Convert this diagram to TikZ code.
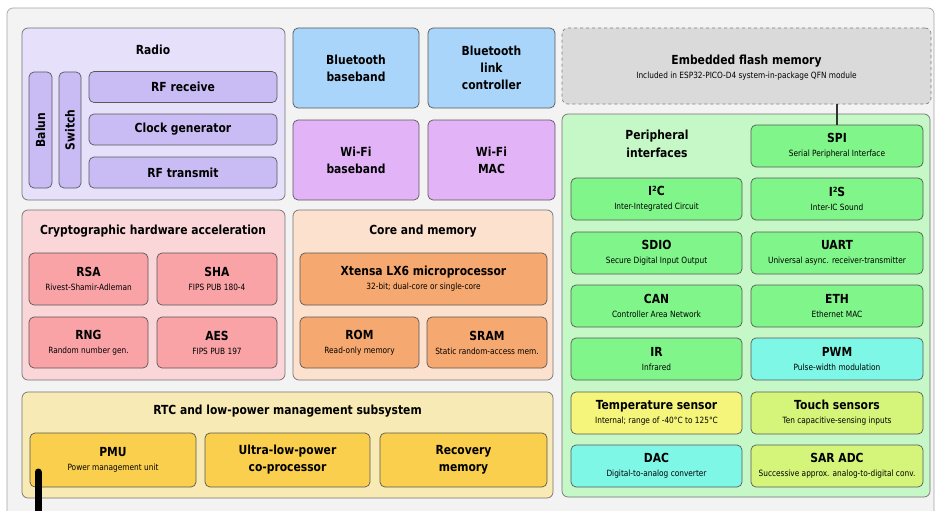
\documentclass[tikz,border=0pt]{standalone}
\usepackage{fontspec}
\setmainfont{DejaVu Sans}[FakeStretch=0.86]
\usepackage{tikz}

\definecolor{frameBg}{HTML}{F3F3F3}
\definecolor{radioBg}{HTML}{E6E0FB}
\definecolor{radioIn}{HTML}{C9BCF5}
\definecolor{btBlue}{HTML}{A9D5FA}
\definecolor{wifiPink}{HTML}{E3B3F7}
\definecolor{cryptoBg}{HTML}{FAD6D8}
\definecolor{cryptoIn}{HTML}{F9A3A6}
\definecolor{coreBg}{HTML}{FDE1CF}
\definecolor{coreIn}{HTML}{F5A870}
\definecolor{rtcBg}{HTML}{F8EAB5}
\definecolor{rtcIn}{HTML}{F9CF4D}
\definecolor{flashBg}{HTML}{DADADA}
\definecolor{periBg}{HTML}{C6F7C6}
\definecolor{periGreen}{HTML}{80F58A}
\definecolor{periCyan}{HTML}{7FF7E6}
\definecolor{periYellow}{HTML}{F4F57A}
\definecolor{periLime}{HTML}{D5F57A}

\tikzset{
  grp/.style={draw=black!55,line width=0.7pt,rounded corners=6pt,inner sep=0pt},
  blk/.style={draw=black!65,line width=0.7pt,rounded corners=5pt,inner sep=0pt,align=center,
    font=\fontsize{12.5}{17}\selectfont\bfseries},
  ttl/.style={align=center,inner sep=0pt,font=\fontsize{12.5}{18}\selectfont\bfseries},
  periph/.style={blk,minimum width=171pt,minimum height=42pt},
}
\newcommand{\subtxt}[1]{\\[-3pt]{\fontsize{8.6}{10}\selectfont\mdseries #1}}

\begin{document}
\begin{tikzpicture}[x=1pt,y=-1pt]
\clip (0,0) rectangle (937,511);

\node[grp,draw=black!35,fill=frameBg,minimum width=927pt,minimum height=530pt] (frame) at (470.5,273) {};

\node[grp,fill=radioBg,minimum width=263pt,minimum height=172pt] (radio) at (153.5,114) {};
\node[ttl] (radioT) at (153,50) {Radio};
\node[blk,fill=radioIn,minimum width=23pt,minimum height=116pt] (balun) at (40.5,130) {};
\node[ttl,rotate=90] at (balun) {Balun};
\node[blk,fill=radioIn,minimum width=22pt,minimum height=116pt] (switch) at (70,130) {};
\node[ttl,rotate=90] at (switch) {Switch};
\node[blk,fill=radioIn,minimum width=188pt,minimum height=31pt] (rfrx) at (183,87) {RF receive};
\node[blk,fill=radioIn,minimum width=188pt,minimum height=31pt] (clkgen) at (183,129.5) {Clock generator};
\node[blk,fill=radioIn,minimum width=188pt,minimum height=31pt] (rftx) at (183,172.5) {RF transmit};

\node[blk,fill=btBlue,minimum width=126pt,minimum height=80pt] (btbb) at (356,68) {Bluetooth\\baseband};
\node[blk,fill=btBlue,minimum width=127pt,minimum height=80pt] (btlc) at (491.5,68) {Bluetooth\\link\\controller};
\node[blk,fill=wifiPink,minimum width=126pt,minimum height=80pt] (wifibb) at (356,160) {Wi-Fi\\baseband};
\node[blk,fill=wifiPink,minimum width=127pt,minimum height=80pt] (wifimac) at (491.5,160) {Wi-Fi\\MAC};

\node[grp,fill=cryptoBg,minimum width=263pt,minimum height=170pt] (crypto) at (153.5,295) {};
\node[ttl] (cryptoT) at (153,231) {Cryptographic hardware acceleration};
\node[blk,fill=cryptoIn,minimum width=119pt,minimum height=52pt] (rsa) at (88.5,279) {RSA\subtxt{Rivest-Shamir-Adleman}};
\node[blk,fill=cryptoIn,minimum width=120pt,minimum height=52pt] (sha) at (217,279) {SHA\subtxt{FIPS PUB 180-4}};
\node[blk,fill=cryptoIn,minimum width=119pt,minimum height=51pt] (rng) at (88.5,342.5) {RNG\subtxt{Random number gen.}};
\node[blk,fill=cryptoIn,minimum width=120pt,minimum height=51pt] (aes) at (217,342.5) {AES\subtxt{FIPS PUB 197}};

\node[grp,fill=coreBg,minimum width=260pt,minimum height=170pt] (core) at (423,295) {};
\node[ttl] (coreT) at (423,231) {Core and memory};
\node[blk,fill=coreIn,minimum width=247pt,minimum height=52pt] (cpu) at (423.5,279) {Xtensa LX6 microprocessor\subtxt{32-bit; dual-core or single-core}};
\node[blk,fill=coreIn,minimum width=119pt,minimum height=51pt] (rom) at (359.5,342.5) {ROM\subtxt{Read-only memory}};
\node[blk,fill=coreIn,minimum width=120pt,minimum height=51pt] (sram) at (487,342.5) {SRAM\subtxt{Static random-access mem.}};

\node[grp,fill=rtcBg,minimum width=531pt,minimum height=106pt] (rtc) at (287.5,445) {};
\node[ttl] (rtcT) at (287.5,411) {RTC and low-power management subsystem};
\node[blk,fill=rtcIn,minimum width=166pt,minimum height=54pt] (pmu) at (113,460) {PMU\subtxt{Power management unit}};
\node[blk,fill=rtcIn,minimum width=165pt,minimum height=54pt] (ulp) at (287.5,460) {Ultra-low-power\\co-processor};
\node[blk,fill=rtcIn,minimum width=167pt,minimum height=54pt] (recmem) at (463.5,460) {Recovery\\memory};

\node[grp,dashed,draw=black!50,fill=flashBg,minimum width=369pt,minimum height=76pt] (flash) at (746.5,66) {};
\node[ttl] (flashT) at (746.5,61) {Embedded flash memory};
\node[inner sep=0pt,font=\fontsize{8.6}{10}\selectfont] (flashS) at (746.5,76) {Included in ESP32-PICO-D4 system-in-package QFN module};

\node[grp,fill=periBg,minimum width=368pt,minimum height=383pt] (peri) at (746,305.5) {};
\node[ttl] (periT) at (657,144) {Peripheral\\interfaces};

\node[periph,fill=periGreen,minimum width=172pt] (spi) at (837,146) {SPI\subtxt{Serial Peripheral Interface}};
\node[periph,fill=periGreen] (i2c) at (656.5,199) {I²C\subtxt{Inter-Integrated Circuit}};
\node[periph,fill=periGreen,minimum width=172pt] (i2s) at (837,199) {I²S\subtxt{Inter-IC Sound}};
\node[periph,fill=periGreen] (sdio) at (656.5,253) {SDIO\subtxt{Secure Digital Input Output}};
\node[periph,fill=periGreen,minimum width=172pt] (uart) at (837,253) {UART\subtxt{Universal async. receiver-transmitter}};
\node[periph,fill=periGreen] (can) at (656.5,306) {CAN\subtxt{Controller Area Network}};
\node[periph,fill=periGreen,minimum width=172pt] (eth) at (837,306) {ETH\subtxt{Ethernet MAC}};
\node[periph,fill=periGreen] (ir) at (656.5,359) {IR\subtxt{Infrared}};
\node[periph,fill=periCyan,minimum width=172pt] (pwm) at (837,359) {PWM\subtxt{Pulse-width modulation}};
\node[periph,fill=periYellow] (temp) at (656.5,413) {Temperature sensor\subtxt{Internal; range of -40°C to 125°C}};
\node[periph,fill=periLime,minimum width=172pt] (touch) at (837,413) {Touch sensors\subtxt{Ten capacitive-sensing inputs}};
\node[periph,fill=periCyan] (dac) at (656.5,466) {DAC\subtxt{Digital-to-analog converter}};
\node[periph,fill=periLime,minimum width=172pt] (sar) at (837,466) {SAR ADC\subtxt{Successive approx. analog-to-digital conv.}};

\draw[line width=1.2pt,black!80] (flash.south -| spi.north) -- (spi.north);

\coordinate (barTop) at (38,472);
\coordinate (barEnd) at (38,520);
\draw[line width=7pt,line cap=round] (barTop) -- (barEnd);
\end{tikzpicture}
\end{document}
